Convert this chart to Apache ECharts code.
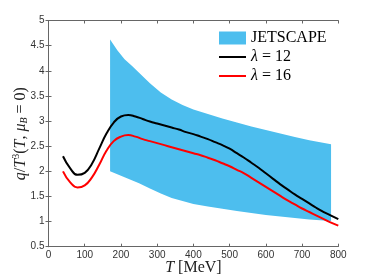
<!DOCTYPE html>
<html><head><meta charset="utf-8">
<script src="https://cdn.jsdelivr.net/npm/echarts@6/dist/echarts.min.js"></script>
<style>html,body{margin:0;padding:0;background:#fff}#c{width:374px;height:280px}</style>
</head><body><div id="c"></div>
<script>
var T_curve = [40,60,80,100,120,140,160,180,200,220,240,260,280,300,320,340,360,380,400,420,440,460,480,500,520,540,560,580,600,620,640,660,680,700,720,740,760,780,800];
var lambda12 = [2.30,2.06,1.93,1.97,2.15,2.45,2.75,2.97,3.09,3.12,3.09,3.04,2.99,2.95,2.91,2.87,2.83,2.78,2.74,2.69,2.64,2.58,2.52,2.45,2.36,2.27,2.17,2.07,1.96,1.85,1.74,1.64,1.54,1.45,1.36,1.27,1.19,1.12,1.05];
var lambda16 = [2.00,1.78,1.68,1.72,1.88,2.13,2.41,2.60,2.69,2.72,2.69,2.64,2.60,2.56,2.52,2.48,2.44,2.40,2.36,2.32,2.27,2.22,2.16,2.10,2.03,1.96,1.87,1.78,1.69,1.60,1.51,1.42,1.34,1.26,1.19,1.12,1.05,0.98,0.92];
var T_band = [170,190,210,230,250,280,310,340,370,400,440,480,520,560,600,640,680,720,750,780];
var bandUpper = [4.62,4.41,4.23,4.10,3.96,3.75,3.57,3.43,3.32,3.23,3.14,3.05,2.97,2.89,2.82,2.75,2.68,2.62,2.58,2.54];
var bandLower = [2.00,1.94,1.88,1.82,1.76,1.66,1.56,1.47,1.41,1.35,1.30,1.255,1.21,1.17,1.13,1.10,1.07,1.04,1.025,1.01];
var xTicks = [0,800,100];
var yTicks = [0.5,5,0.5];

function pairs(xs, ys){ return xs.map(function(x,i){ return [x, ys[i]]; }); }
var axisCol = '#666';
var serif = '"Liberation Serif","DejaVu Serif",serif';
var sans = '"Liberation Sans",Arial,sans-serif';
var bandData = T_band.map(function(t,i){ return [t, bandUpper[i], bandLower[i]]; });
var linePath = 'path://M0,0L40,0L40,3L0,3Z';
var chart = echarts.init(document.getElementById('c'));
chart.setOption({
  animation:false,
  grid:{left:48.5,right:35.7,top:20.5,bottom:33.3,containLabel:false,outerBoundsMode:'none'},
  legend:{
    left:219, top:30, orient:'vertical', padding:0, itemWidth:27, itemHeight:13, itemGap:3,
    textStyle:{fontFamily:serif,fontSize:16,color:'#000',
      rich:{i:{fontFamily:serif,fontStyle:'italic',fontSize:16,color:'#000'}}},
    data:[{name:'JETSCAPE',icon:'rect'},{name:'λ12',icon:linePath},{name:'λ16',icon:linePath}],
    formatter:function(n){ if(n==='λ12') return '{i|λ} = 12'; if(n==='λ16') return '{i|λ} = 16'; return n; }
  },
  xAxis:[{
    type:'value', min:xTicks[0], max:xTicks[1], interval:xTicks[2],
    axisLine:{show:true,lineStyle:{color:axisCol}},
    axisTick:{show:true,inside:true,length:3,lineStyle:{color:axisCol}},
    splitLine:{show:false},
    axisLabel:{color:'#333',fontSize:10,fontFamily:sans,margin:4},
    name:'{i|T} [MeV]', nameLocation:'middle', nameGap:13, nameMoveOverlap:false,
    nameTextStyle:{fontFamily:serif,fontSize:16,color:'#222',
      rich:{i:{fontFamily:serif,fontStyle:'italic',fontSize:16,color:'#222'}}}
  },{
    type:'value', position:'top', min:xTicks[0], max:xTicks[1], interval:xTicks[2],
    axisLine:{show:true,lineStyle:{color:axisCol}},
    axisTick:{show:true,inside:true,length:3,lineStyle:{color:axisCol}},
    axisLabel:{show:false}, splitLine:{show:false}
  }],
  yAxis:[{
    type:'value', min:yTicks[0], max:yTicks[1], interval:yTicks[2],
    axisLine:{show:true,lineStyle:{color:axisCol}},
    axisTick:{show:true,inside:true,length:3,lineStyle:{color:axisCol}},
    splitLine:{show:false},
    axisLabel:{color:'#333',fontSize:10,fontFamily:sans,margin:4},
    name:'{i|q}/{i|T}{sup|3}({i|T}, {i|μ}{sub|B} = 0)', nameLocation:'middle', nameGap:19, nameRotate:90, nameMoveOverlap:false,
    nameTextStyle:{fontFamily:serif,fontSize:16,color:'#222',
      rich:{i:{fontFamily:serif,fontStyle:'italic',fontSize:16,color:'#222'},
            sup:{fontFamily:serif,fontSize:10,padding:[0,0,8,0],color:'#222'},
            sub:{fontFamily:serif,fontStyle:'italic',fontSize:10,padding:[8,0,0,0],color:'#222'}}}
  },{
    type:'value', position:'right', min:yTicks[0], max:yTicks[1], interval:yTicks[2],
    axisLine:{show:true,lineStyle:{color:axisCol}},
    axisTick:{show:true,inside:true,length:3,lineStyle:{color:axisCol}},
    axisLabel:{show:false}, splitLine:{show:false}
  }],
  series:[
    {name:'JETSCAPE', type:'custom', data:bandData, encode:{x:0,y:[1,2]},
     itemStyle:{color:'#4DBEEE'}, z:1, silent:true,
     renderItem:function(params, api){
       if(params.dataIndex !== 0) return null;
       var pts = [];
       for(var i=0;i<bandData.length;i++) pts.push(api.coord([bandData[i][0], bandData[i][1]]));
       for(var j=bandData.length-1;j>=0;j--) pts.push(api.coord([bandData[j][0], bandData[j][2]]));
       return {type:'polygon', shape:{points:pts}, style:{fill:'#4DBEEE'}};
     }},
    {name:'λ12', type:'line', data:pairs(T_curve,lambda12), symbol:'none', smooth:true,
     lineStyle:{color:'#000',width:2}, itemStyle:{color:'#000'}, z:3},
    {name:'λ16', type:'line', data:pairs(T_curve,lambda16), symbol:'none', smooth:true,
     lineStyle:{color:'#ff0000',width:2}, itemStyle:{color:'#ff0000'}, z:3}
  ]
});
</script></body></html>
